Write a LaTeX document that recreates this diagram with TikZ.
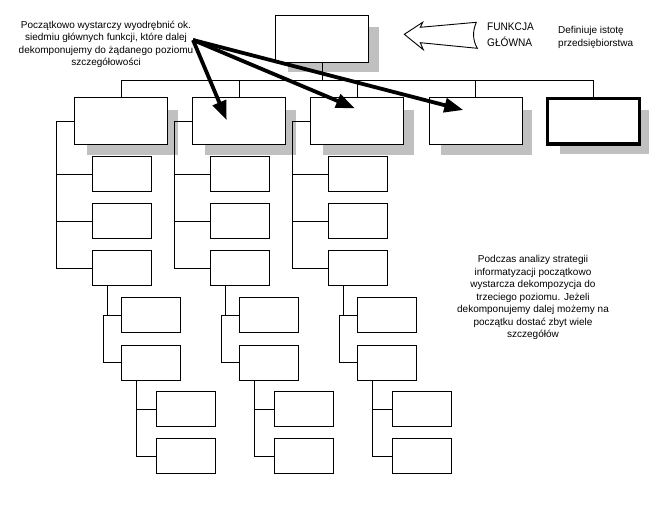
\documentclass[tikz,border=0pt]{standalone}
\usepackage{fontspec}
\setmainfont{Liberation Sans}
\usetikzlibrary{arrows.meta,calc,backgrounds}
\definecolor{shd}{HTML}{C0C0C0}
\begin{document}
\begin{tikzpicture}[x=1pt,y=-1pt,
  box/.style={draw,line width=0.9pt,fill=white,inner sep=0pt,outer sep=0pt},
  bigbox/.style={box,minimum width=93pt,minimum height=47pt},
  smallbox/.style={box,minimum width=58.5pt,minimum height=35.2pt},
  con/.style={line width=0.9pt},
  bigarrow/.style={line width=3.8pt,-{Triangle[length=19pt,width=14pt]}},
  txt/.style={font=\fontsize{10}{12.5}\selectfont,inner sep=0pt,align=center}]
\useasboundingbox (0,0) rectangle (658,505);

% main boxes
\node[bigbox] (top) at (322.3,38.7) {};
\node[bigbox] (b1) at (121.3,121.3) {};
\node[bigbox] (b2) at (239.3,121.3) {};
\node[bigbox] (b3) at (357.3,121.3) {};
\node[bigbox] (b4) at (475.5,121.3) {};
\node[bigbox,line width=3.3pt,minimum width=91.7pt,minimum height=45.7pt] (b5) at (593.5,121.2) {};

% shadows
\begin{scope}[on background layer]
\foreach \n in {top,b1,b2,b3,b4,b5}
  \fill[shd] ($(\n.north west)+(12,12)$) rectangle ($(\n.south east)+(10,10)$);
\end{scope}

% bus
\coordinate (bus) at (0,80.3);
\draw[con] (top.south) -- (top.south |- bus);
\draw[con] (b1.north) -- (b1.north |- bus) -- (b5.north |- bus) -- (b5.north);
\foreach \i in {2,3,4} \draw[con] (b\i.north) -- (b\i.north |- bus);

% columns
\foreach \col/\dx in {1/0,2/118,3/236}{
  \node[smallbox] (c\col a) at (122+\dx,174.2) {};
  \node[smallbox] (c\col b) at (122+\dx,221.3) {};
  \node[smallbox] (c\col c) at (122+\dx,268.3) {};
  \node[smallbox] (d\col a) at (150.8+\dx,315.3) {};
  \node[smallbox] (d\col b) at (150.8+\dx,362.7) {};
  \node[smallbox,minimum width=59pt] (e\col a) at (186.3+\dx,409.3) {};
  \node[smallbox,minimum width=59pt] (e\col b) at (186.3+\dx,456.3) {};
  \draw[con] (b\col.west) -- ++(-18,0) coordinate (s\col) |- (c\col c.west);
  \draw[con] (c\col a.west) -- (c\col a.west -| s\col);
  \draw[con] (c\col b.west) -- (c\col b.west -| s\col);
  \coordinate (u\col) at ($(c\col c.south west)+(15,0)$);
  \draw[con] (u\col) -- (u\col |- d\col a.west);
  \draw[con] (d\col a.west) -- ++(-18,0) coordinate (w\col) |- (d\col b.west);
  \coordinate (v\col) at ($(d\col b.south west)+(15,0)$);
  \draw[con] (v\col) |- (e\col b.west);
  \draw[con] (e\col a.west) -- (e\col a.west -| v\col);
}

% texts
\node[txt] (note1) at (106,44.5) {Początkowo wystarczy wyodrębnić ok.\\siedmiu głównych funkcji, które dalej\\dekomponujemy do żądanego poziomu\\szczegółowości};
\node[txt] (note2) at (533,297.5) {Podczas analizy strategii\\informatyzacji początkowo\\wystarcza dekompozycja do\\trzeciego poziomu. Jeżeli\\dekomponujemy dalej możemy na\\początku dostać zbyt wiele\\szczegółów};
\node[font=\fontsize{11}{16.7}\selectfont,align=left,anchor=west,inner sep=0pt,xscale=0.92] (fg) at (487,34.7) {FUNKCJA\\GŁÓWNA};
\node[font=\fontsize{10}{12.4}\selectfont,align=left,anchor=west,inner sep=0pt] (def) at (558,37.5) {Definiuje istotę\\przedsiębiorstwa};

% hollow arrow
\draw[line width=0.9pt,line join=miter] (404.3,34.3) -- (422.7,22.3) -- (420.3,27.3) -- (476.3,22.3)
  .. controls (472.5,31) and (472.5,40) .. (477.3,48.3) -- (420.3,42.7) -- (423.3,49.7) -- cycle;

% thick arrows
\coordinate (src) at (193,40);
\coordinate (t2) at (226.7,120);
\coordinate (t3) at (355,108.3);
\coordinate (t4) at (463.3,110);
\draw[bigarrow] (src) -- (t2);
\draw[bigarrow] (src) -- (t3);
\draw[bigarrow] (src) -- (t4);
\end{tikzpicture}
\end{document}
